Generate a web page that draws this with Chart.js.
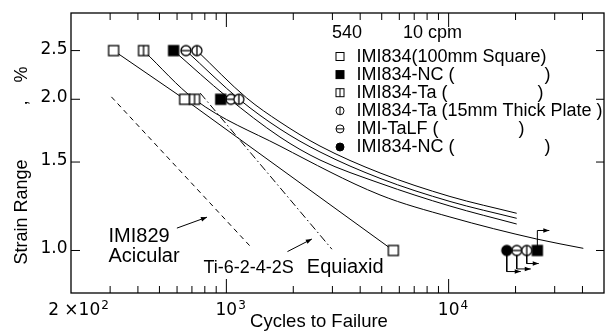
<!DOCTYPE html>
<html><head><meta charset="utf-8">
<script src="https://cdn.jsdelivr.net/npm/chart.js@4.4.1/dist/chart.umd.min.js"></script>
<style>html,body{margin:0;padding:0;background:#fff;overflow:hidden}#wrap{width:611px;height:336px}</style>
</head><body><div id="wrap"><canvas id="c" width="611" height="336"></canvas></div>
<script>
// ---------- DATA (cycles to failure vs strain range %) ----------
const cycles_IMI834_Square = [311, 649, 5640];
const strain_IMI834_Square = [2.5, 2.0, 1.0];
const cycles_IMI834_NC = [579, 943, 25070];
const strain_IMI834_NC = [2.5, 2.0, 1.0];
const cycles_IMI834_Ta = [424, 719];
const strain_IMI834_Ta = [2.5, 2.0];
const cycles_IMI834_Ta15 = [737, 1138, 22460];
const strain_IMI834_Ta15 = [2.5, 2.0, 1.0];
const cycles_IMI_TaLF = [658, 1048, 20250];
const strain_IMI_TaLF = [2.5, 2.0, 1.0];
const cycles_IMI834_NC2 = [18260];
const strain_IMI834_NC2 = [1.0];

// fitted curves
const fitNC_cycles = [579, 1007, 1743, 2638, 4912, 10140, 20240];
const fitNC_strain = [2.5, 2.021, 1.682, 1.514, 1.361, 1.226, 1.129];
const fitTaLF_cycles = [658, 1152, 1743, 2638, 4912, 10140, 20240];
const fitTaLF_strain = [2.5, 1.994, 1.745, 1.571, 1.392, 1.252, 1.159];
const fitTa15_cycles = [737, 1234, 1743, 2638, 4912, 10140, 20240];
const fitTa15_strain = [2.5, 2.012, 1.802, 1.614, 1.427, 1.281, 1.186];
const fitTa_cycles = [424, 719, 1743, 4912, 10140, 24900, 40360];
const fitTa_strain = [2.5, 2.0, 1.614, 1.290, 1.166, 1.054, 1.010];

// reference lines
const imi829_cycles = [304, 1303];
const imi829_strain = [2.022, 1.011];
const ti6242_cycles = [763, 2984];
const ti6242_strain = [2.057, 1.006];

// run-out arrows
const runNC_cycles = [25070, 25070, 28380];
const runNC_strain = [1.0, 1.096, 1.096];
const runTa15_cycles = [22460, 22460, 25430];
const runTa15_strain = [1.0, 0.942, 0.942];
const runTaLF_cycles = [20250, 20250, 23410];
const runTaLF_strain = [1.0, 0.919, 0.919];
const runNC2_cycles = [18260, 18260, 21110];
const runNC2_strain = [1.0, 0.908, 0.908];

// pointer arrows for labels
const ptr829_cycles = [599, 818];
const ptr829_strain = [1.108, 1.165];
const ptrEq_cycles = [1883, 2425];
const ptrEq_strain = [0.995, 1.054];

// legend / labels
const legendLabels = [
  'IMI834(100mm Square)',
  'IMI834-NC (                  )',
  'IMI834-Ta (                  )',
  'IMI834-Ta (15mm Thick Plate )',
  'IMI-TaLF (                )',
  'IMI834-NC (                  )'
];
const legendHeader = ['540', '10 cpm'];
const yTickValues = [1.0, 1.5, 2.0, 2.5];
const yTickLabels = ['1.0', '1.5', '2.0', '2.5'];
const xMinorTicks = [300,400,500,600,700,800,900,2000,3000,4000,5000,6000,7000,8000,9000,20000,30000,40000];
const xMajorTicks = [1000, 10000];
const xTickLabels = [['2 \u00d710','2'], ['10','3'], ['10','4']];
const xTickLabelValues = [200, 1000, 10000];
const annotTexts = ['IMI829', 'Acicular', 'Ti-6-2-4-2S', 'Equiaxid'];

// ---------- helpers ----------
function pts(xs, ys){ return xs.map((x,i)=>({x:x, y:ys[i]})); }
function drawShape(ctx, type, cx, cy, s, lw){
  const h = s/2;
  ctx.lineWidth = lw || 1; ctx.strokeStyle = '#000';
  if (type[0] === 's') {
    if (type === 'sqf') { ctx.fillStyle = '#000'; ctx.fillRect(cx-h, cy-h, s, s); ctx.strokeRect(cx-h, cy-h, s, s); return; }
    ctx.fillStyle = '#fff'; ctx.fillRect(cx-h, cy-h, s, s); ctx.strokeRect(cx-h, cy-h, s, s);
    if (type === 'sqv') { ctx.beginPath(); ctx.moveTo(cx, cy-h); ctx.lineTo(cx, cy+h); ctx.stroke(); }
  } else {
    ctx.beginPath(); ctx.arc(cx, cy, h, 0, Math.PI*2);
    ctx.fillStyle = type === 'cf' ? '#000' : '#fff'; ctx.fill(); ctx.stroke();
    if (type === 'cv') { ctx.beginPath(); ctx.moveTo(cx, cy-h); ctx.lineTo(cx, cy+h); ctx.stroke(); }
    if (type === 'ch') { ctx.beginPath(); ctx.moveTo(cx-h, cy); ctx.lineTo(cx+h, cy); ctx.stroke(); }
  }
}
function makeMarker(type, s){
  const c = document.createElement('canvas');
  c.width = s + 4; c.height = s + 4;
  drawShape(c.getContext('2d'), type, (s+4)/2, (s+4)/2, s, 1.3);
  return c;
}
const markerTypes = ['sq', 'sqf', 'sqv', 'cv', 'ch', 'cf'];
const M = {}; markerTypes.forEach(t => M[t] = makeMarker(t, 10));

function markerDs(data, type){
  return { data, pointStyle: M[type], pointRadius: 5, showLine: false, borderColor:'#000', backgroundColor:'#fff' };
}
function lineDs(data, extra){
  return Object.assign({ data, pointRadius: 0, showLine: true, borderColor:'#000', borderWidth: 1, fill:false }, extra||{});
}

const datasets = [
  markerDs(pts(cycles_IMI834_NC2, strain_IMI834_NC2), 'cf'),
  markerDs(pts(cycles_IMI834_NC, strain_IMI834_NC), 'sqf'),
  markerDs(pts(cycles_IMI834_Ta, strain_IMI834_Ta), 'sqv'),
  markerDs(pts(cycles_IMI834_Ta15, strain_IMI834_Ta15), 'cv'),
  markerDs(pts(cycles_IMI_TaLF, strain_IMI_TaLF), 'ch'),
  Object.assign(markerDs(pts(cycles_IMI834_Square, strain_IMI834_Square), 'sq'), {showLine:true, borderWidth:1}),
  lineDs(pts(fitNC_cycles, fitNC_strain), {cubicInterpolationMode:'monotone'}),
  lineDs(pts(fitTaLF_cycles, fitTaLF_strain), {cubicInterpolationMode:'monotone'}),
  lineDs(pts(fitTa15_cycles, fitTa15_strain), {cubicInterpolationMode:'monotone'}),
  lineDs(pts(fitTa_cycles, fitTa_strain), {cubicInterpolationMode:'monotone'}),
  lineDs(pts(imi829_cycles, imi829_strain), {borderDash:[5,4]}),
  lineDs(pts(ti6242_cycles, ti6242_strain), {borderDash:[8,3,1.5,3]}),
  lineDs(pts(runNC_cycles, runNC_strain), {arrowHead:true}),
  lineDs(pts(runTa15_cycles, runTa15_strain), {arrowHead:true}),
  lineDs(pts(runTaLF_cycles, runTaLF_strain), {arrowHead:true}),
  lineDs(pts(runNC2_cycles, runNC2_strain), {arrowHead:true}),
  lineDs(pts(ptr829_cycles, ptr829_strain), {arrowHead:true}),
  lineDs(pts(ptrEq_cycles, ptrEq_strain), {arrowHead:true})
];

const NUMFONT = '"DejaVu Sans", sans-serif';
const TXTFONT = '"Liberation Sans", Arial, sans-serif';

const deco = {
  id: 'deco',
  afterDatasetsDraw(chart){
    const ctx = chart.ctx;
    chart.data.datasets.forEach((ds, i) => {
      if (!ds.arrowHead) return;
      const d = chart.getDatasetMeta(i).data;
      const p1 = d[d.length-2], p2 = d[d.length-1];
      const a = Math.atan2(p2.y-p1.y, p2.x-p1.x);
      ctx.save(); ctx.translate(p2.x, p2.y); ctx.rotate(a);
      ctx.fillStyle = '#000'; ctx.beginPath();
      ctx.moveTo(0,0); ctx.lineTo(-6,-2.3); ctx.lineTo(-6,2.3); ctx.closePath(); ctx.fill();
      ctx.restore();
    });
  },
  afterDraw(chart){
    const ctx = chart.ctx, a = chart.chartArea, xs = chart.scales.x, ys = chart.scales.y;
    ctx.save();
    ctx.strokeStyle = '#000'; ctx.fillStyle = '#000';
    ctx.lineWidth = 1.3;
    ctx.strokeRect(a.left, a.top, a.right - a.left, a.bottom - a.top);
    ctx.lineWidth = 1;
    ctx.beginPath();
    xMinorTicks.forEach(v => { const x = xs.getPixelForValue(v);
      ctx.moveTo(x, a.bottom); ctx.lineTo(x, a.bottom-7);
      ctx.moveTo(x, a.top); ctx.lineTo(x, a.top+7); });
    xMajorTicks.forEach(v => { const x = xs.getPixelForValue(v);
      ctx.moveTo(x, a.bottom); ctx.lineTo(x, a.bottom-14);
      ctx.moveTo(x, a.top); ctx.lineTo(x, a.top+14); });
    yTickValues.forEach(v => { const y = ys.getPixelForValue(v);
      ctx.moveTo(a.left, y); ctx.lineTo(a.left+9, y);
      ctx.moveTo(a.right, y); ctx.lineTo(a.right-8, y); });
    ctx.stroke();

    // y tick labels
    ctx.font = '17px ' + NUMFONT; ctx.textAlign = 'right'; ctx.textBaseline = 'middle';
    yTickValues.forEach((v, i) => ctx.fillText(yTickLabels[i], a.left - 3.5, ys.getPixelForValue(v) - 1.5));

    // x tick labels with superscripts
    ctx.textBaseline = 'alphabetic'; ctx.textAlign = 'left';
    xTickLabelValues.forEach((v, i) => {
      const [base, sup] = xTickLabels[i];
      ctx.font = '17px ' + NUMFONT; const wb = ctx.measureText(base).width;
      ctx.font = '12px ' + NUMFONT; const ws = ctx.measureText(sup).width;
      let x0;
      if (i === 0) { x0 = xs.getPixelForValue(v) + 9 - (wb + ws)/2 - 2; }
      else { x0 = xs.getPixelForValue(v) - wb/2; }
      ctx.font = '17px ' + NUMFONT; ctx.fillText(base, x0, a.bottom + 22);
      ctx.font = '12px ' + NUMFONT; ctx.fillText(sup, x0 + wb + 1, a.bottom + 16);
    });

    // axis titles
    ctx.font = '18.5px ' + TXTFONT; ctx.textAlign = 'center';
    ctx.fillText('Cycles to Failure', 319, 327);
    const yt = [['Strain Range', 212], [',', 103], ['%', 74.5]];
    yt.forEach(([t, y]) => { ctx.save(); ctx.translate(27, y); ctx.rotate(-Math.PI/2);
      ctx.font = '18px ' + TXTFONT; ctx.textAlign = 'center'; ctx.fillText(t, 0, 0); ctx.restore(); });

    // legend
    ctx.textAlign = 'left'; ctx.font = '18px ' + TXTFONT;
    ctx.textBaseline = 'middle';
    ctx.fillText(legendHeader[0], 332, 33);
    ctx.fillText(legendHeader[1], 403, 33);
    legendLabels.forEach((t, i) => {
      const y = 56.5 + 18.1 * i;
      drawShape(ctx, markerTypes[i], 340, y, 8, 1);
      ctx.fillStyle = '#000';
      ctx.fillText(t, 356.5, y + 0.5);
    });

    // annotations
    ctx.textBaseline = 'alphabetic';
    ctx.font = '20px ' + TXTFONT;
    ctx.fillText(annotTexts[0], xs.getPixelForValue(295), ys.getPixelForValue(1.041));
    ctx.fillText(annotTexts[1], xs.getPixelForValue(295), ys.getPixelForValue(0.950));
    ctx.font = '18px ' + TXTFONT;
    ctx.fillText(annotTexts[2], xs.getPixelForValue(789), ys.getPixelForValue(0.902));
    ctx.font = '20px ' + TXTFONT;
    ctx.fillText(annotTexts[3], xs.getPixelForValue(2302), ys.getPixelForValue(0.902));
    ctx.restore();
  }
};

new Chart(document.getElementById('c'), {
  type: 'scatter',
  data: { datasets },
  options: {
    responsive: false, animation: false, devicePixelRatio: 1,
    layout: { padding: { left: 71, top: 13, right: 7, bottom: 43 } },
    scales: {
      x: { type: 'logarithmic', min: 200, max: 50000, display: false },
      y: { type: 'logarithmic', min: 0.823, max: 2.97, display: false }
    },
    plugins: { legend: { display: false }, tooltip: { enabled: false } },
    elements: { line: { tension: 0 } }
  },
  plugins: [deco]
});
</script>
</body></html>
